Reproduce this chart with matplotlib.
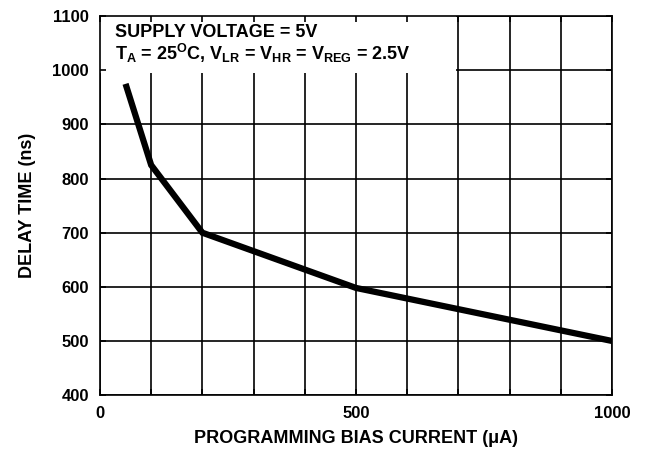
import numpy as np
import matplotlib.pyplot as plt
from matplotlib.patches import Rectangle

# ==========================================
# Datos
# ==========================================

bias_current = [50, 100, 200, 500, 1000]      # uA
delay_time = [975, 825, 700, 598, 500]        # ns

x_major = [0, 500, 1000]
x_grid = np.arange(0, 1001, 100)
y_ticks = np.arange(400, 1101, 100)

# ==========================================
# Estilo
# ==========================================

plt.rcParams['font.family'] = ['Liberation Sans', 'DejaVu Sans']
plt.rcParams['font.weight'] = 'bold'
plt.rcParams['mathtext.fontset'] = 'custom'
plt.rcParams['mathtext.rm'] = 'Liberation Sans:bold'
plt.rcParams['mathtext.it'] = 'Liberation Sans:bold'
plt.rcParams['mathtext.bf'] = 'Liberation Sans:bold'

fig = plt.figure(figsize=(6.49, 4.5), dpi=100)
ax = fig.add_axes([0.154, 0.122, 0.789, 0.842])

# grid manual (debajo del recuadro de texto)
ax.vlines(x_grid, 400, 1100, color='black', lw=1.2, zorder=1)
ax.hlines(y_ticks, 0, 1000, color='black', lw=1.2, zorder=1)

# recuadro blanco del texto
ax.add_patch(Rectangle((0, 995), 695, 105, facecolor='white',
                       edgecolor='none', zorder=2))

ax.plot(bias_current, delay_time, color='black', lw=4.5,
        solid_joinstyle='miter', solid_capstyle='butt', zorder=4)

ax.text(29, 1062, 'SUPPLY VOLTAGE = 5V', fontsize=13,
        fontweight='bold', zorder=5)
ax.text(29, 1020,
        r'T$_\mathregular{A}$ = 25$^\mathregular{O}$C, '
        r'V$_\mathregular{LR}$ = V$_\mathregular{HR}$ = '
        r'V$_\mathregular{REG}$ = 2.5V',
        fontsize=13, fontweight='bold', zorder=5)

# ==========================================
# Ejes
# ==========================================

ax.set_xlim(0, 1000)
ax.set_ylim(400, 1100)
ax.set_xticks(x_major)
ax.set_xticks(x_grid, minor=True)
ax.set_yticks(y_ticks)
ax.set_axisbelow(False)

ax.tick_params(which='both', direction='in', length=4, width=1.2,
               top=True, right=True, labelsize=12, pad=8)

for s in ax.spines.values():
    s.set_linewidth(1.2)
    s.set_zorder(6)

ax.set_xlabel('PROGRAMMING BIAS CURRENT (μA)', fontsize=13,
              fontweight='bold', labelpad=6)
ax.set_ylabel('DELAY TIME (ns)', fontsize=13, fontweight='bold',
              labelpad=12)

fig.savefig('out.png', dpi=100)
